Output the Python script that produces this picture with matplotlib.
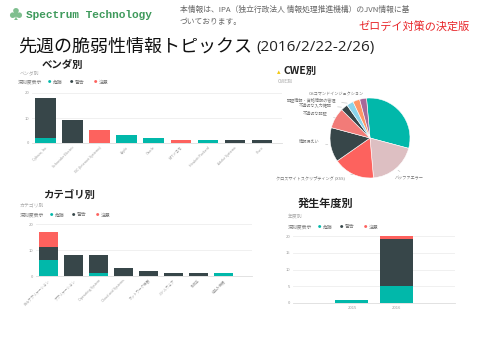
import matplotlib.pyplot as plt
import numpy as np

plt.rcParams['font.family'] = ['Noto Sans CJK JP', 'DejaVu Sans']

# severity colours (Power BI style)
sev_names = ['危険', '警告', '注意']
sev_colors = ['#01B8AA', '#374649', '#FD625E']

# vendor chart
vendors = ['Cybozu, Inc.', 'Schneider Electric', 'ISC (Internet Systems)', 'Apple',
           'Oracle', 'NTTドコモ', 'Hewlett Packard', 'Adobe Systems', 'Cisco']
vendor_high = [2, 0, 0, 3, 2, 0, 1, 0, 0]
vendor_mid = [16, 9, 0, 0, 0, 0, 0, 1, 1]
vendor_low = [0, 0, 5, 0, 0, 1, 0, 0, 0]

# category chart
categories = ['Webアプリケーション', 'アプリケーション', 'Operating System', 'Cloud and Systems',
              'ネットワーク機器', 'ミドルウェア', '制御系', '組込み機器']
cat_high = [6, 0, 1, 0, 0, 0, 0, 1]
cat_mid = [5, 8, 7, 3, 2, 1, 1, 0]
cat_low = [6, 0, 0, 0, 0, 0, 0, 0]

# year chart
years = ['2015', '2016']
year_high = [1, 5]
year_mid = [0, 14]
year_low = [0, 1]

# CWE pie
cwe_names = ['その他', 'バッファエラー', 'クロスサイトスクリプティング (XSS)', '情報漏えい',
             '不適切な認証', '不適切な入力確認', '認証情報・資格情報の管理',
             'OSコマンドインジェクション', 'リソース管理の問題']
cwe_values = [11, 7, 6, 5, 3, 1, 1, 1, 1]
cwe_colors = ['#01B8AA', '#DDBFC2', '#FD625E', '#374649', '#F27B78',
              '#374649', '#8AD4EB', '#FE9666', '#A66999']

fig = plt.figure(figsize=(4.8, 3.6), dpi=100)


def box(x0, y0, x1, y1):
    return [x0 / 480, 1 - y1 / 360, (x1 - x0) / 480, (y1 - y0) / 360]


def ftext(x, y, s, **kw):
    fig.text(x / 480, 1 - y / 360, s, va='center', **kw)


def stacked(ax, labels, high, mid, low, ymax, yticks):
    x = np.arange(len(labels))
    high = np.array(high)
    mid = np.array(mid)
    low = np.array(low)
    ax.bar(x, high, 0.75, color=sev_colors[0])
    ax.bar(x, mid, 0.75, bottom=high, color=sev_colors[1])
    ax.bar(x, low, 0.75, bottom=high + mid, color=sev_colors[2])
    ax.set_ylim(0, ymax)
    ax.set_yticks(yticks)
    ax.set_yticklabels([str(t) for t in yticks], fontsize=3, color='#999999')
    ax.grid(axis='y', color='#eeeeee', linewidth=0.6)
    ax.set_axisbelow(True)
    for s in ['top', 'right', 'left']:
        ax.spines[s].set_visible(False)
    ax.spines['bottom'].set_color('#dddddd')
    ax.spines['bottom'].set_linewidth(0.6)
    ax.tick_params(length=0, pad=2)
    ax.set_xticks(x)


def legend(x, y):
    ftext(x, y, '深刻度表示', fontsize=3.5, color='#777777')
    pos = [x + 30, x + 52, x + 76]
    for px, name, c in zip(pos, sev_names, sev_colors):
        ftext(px, y, '●', fontsize=2.5, color=c)
        ftext(px + 5, y, name, fontsize=3.5, color='#777777')


# header
ftext(8, 15, '♣', fontsize=10, color='#7fbf8f')
ftext(26, 15, 'Spectrum Technology', fontsize=8, color='#3f9a5c',
      family='Liberation Mono', weight='bold')
ftext(180, 10, '本情報は、IPA（独立行政法人 情報処理推進機構）のJVN情報に基', fontsize=5.6, color='#666666')
ftext(180, 22, 'づいております。', fontsize=5.6, color='#666666')
ftext(470, 27, 'ゼロデイ対策の決定版', fontsize=8, color='#e8262a', ha='right')
ftext(18, 47, '先週の脆弱性情報トピックス', fontsize=13, color='#111111')
ftext(256, 47, '(2016/2/22-2/26)', fontsize=11, color='#222222', family='Open Sans')

# vendor
ftext(42, 65, 'ベンダ別', fontsize=7.5, color='#222222', weight='bold')
ftext(20, 73, 'ベンダ別', fontsize=3.5, color='#aaaaaa')
legend(18, 82)
ax1 = fig.add_axes(box(32, 93, 282, 143))
stacked(ax1, vendors, vendor_high, vendor_mid, vendor_low, 20, [0, 10, 20])
ax1.set_xlim(-0.5, 8.75)
ax1.set_xticklabels(vendors, rotation=45, ha='right', rotation_mode='anchor',
                    fontsize=2.5, color='#999999')

# category
ftext(43, 195, 'カテゴリ別', fontsize=7.5, color='#222222', weight='bold')
ftext(20, 205, 'カテゴリ別', fontsize=3.5, color='#aaaaaa')
legend(20, 215)
ax2 = fig.add_axes(box(36, 224, 252, 276))
stacked(ax2, categories, cat_high, cat_mid, cat_low, 20, [0, 10, 20])
ax2.set_xlim(-0.5, 8.15)
ax2.set_xticklabels(categories, rotation=45, ha='right', rotation_mode='anchor',
                    fontsize=2.5, color='#999999')

# year
ftext(298, 203, '発生年度別', fontsize=8, color='#222222', weight='bold')
ftext(288, 216, '年度別', fontsize=3.5, color='#aaaaaa')
legend(288, 227)
ax3 = fig.add_axes(box(293, 236, 455, 303))
stacked(ax3, years, year_high, year_mid, year_low, 20, [0, 5, 10, 15, 20])
ax3.set_xlim(-1.34, 2.34)
ax3.set_xticklabels(years, fontsize=3, color='#999999')

# CWE pie
ftext(277, 72, '▴', fontsize=5, color='#f2c80f')
ftext(283, 71, 'CWE別', fontsize=7.5, color='#222222', weight='bold')
ftext(278, 81, 'CWE別', fontsize=3.5, color='#aaaaaa')
ax4 = fig.add_axes(box(320, 88, 420, 188))
wedges, _ = ax4.pie(cwe_values, colors=cwe_colors, startangle=95, counterclock=False,
                    wedgeprops=dict(linewidth=0.4, edgecolor='white'))
label_pos = [None, (0.62, -1.0), (-0.62, -1.0), (-1.25, -0.1), (-1.05, 0.62),
             (-0.95, 0.82), (-0.85, 0.95), (-0.15, 1.08), None]
for w, name, p in zip(wedges, cwe_names, label_pos):
    if p is None:
        continue
    a = np.deg2rad((w.theta1 + w.theta2) / 2)
    ha = 'left' if p[0] > 0 else 'right'
    ax4.annotate(name, xy=(np.cos(a), np.sin(a)), xytext=p, fontsize=3, color='#777777',
                 ha=ha, va='center',
                 arrowprops=dict(arrowstyle='-', color='#bbbbbb', linewidth=0.4))

fig.savefig('out.png', dpi=100)
